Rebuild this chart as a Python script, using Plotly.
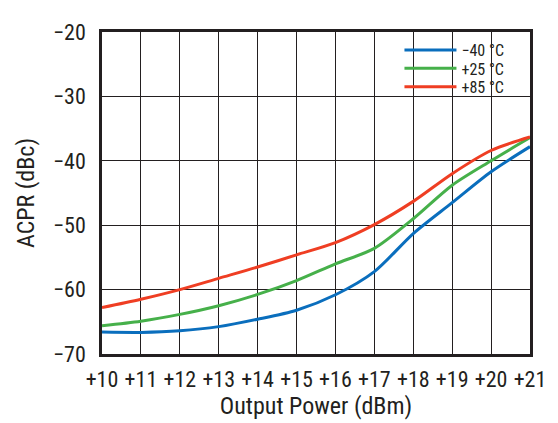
import plotly.graph_objects as go

# Output power (dBm) and ACPR (dBc)
power = [10, 11, 12, 13, 14, 15, 16, 17, 18, 19, 20, 21]
acpr_m40 = [-66.6, -66.65, -66.4, -65.75, -64.6, -63.2, -60.8, -57.2, -51.3, -46.5, -41.7, -37.8]
acpr_p25 = [-65.6, -64.9, -63.85, -62.5, -60.75, -58.6, -56.0, -53.6, -49.0, -43.8, -40.0, -36.4]
acpr_p85 = [-62.8, -61.5, -60.0, -58.25, -56.5, -54.6, -52.7, -49.9, -46.3, -42.0, -38.4, -36.3]

x_ticks = list(range(10, 22))
x_labels = ['+%d' % v for v in x_ticks]
y_ticks = [-70, -60, -50, -40, -30, -20]
y_labels = ['\u2212%d' % abs(v) for v in y_ticks]

font_family = "Roboto Condensed, Liberation Sans Narrow, Roboto, sans-serif"
ink = '#231f20'

series = [
    ('\u221240 \u00b0C', acpr_m40, '#0a6ebd'),
    ('+25 \u00b0C', acpr_p25, '#46b04a'),
    ('+85 \u00b0C', acpr_p85, '#ef3e23'),
]
legend_keys = ['legend', 'legend2', 'legend3']
legend_rows = [0.944, 0.887, 0.830]

fig = go.Figure()
for (name, vals, col), lg in zip(series, legend_keys):
    fig.add_trace(go.Scatter(x=power, y=vals, name=name, mode='lines', legend=lg,
                             line=dict(color=col, width=3, shape='spline', smoothing=0.8)))

# one legend box per entry so the rows can sit as tight as in the original
legend_style = dict(x=0.695, xanchor='left', yanchor='middle', bgcolor='rgba(0,0,0,0)',
                    font=dict(size=16, color=ink), itemwidth=52)
layout_legends = {lg: dict(legend_style, y=yy) for lg, yy in zip(legend_keys, legend_rows)}

fig.update_layout(
    width=550, height=415,
    margin=dict(l=94, r=26, t=12, b=69),
    paper_bgcolor='white', plot_bgcolor='white',
    font=dict(family=font_family, size=22, color=ink),
    showlegend=True,
    **layout_legends,
)
fig.update_xaxes(range=[10, 21], tickvals=x_ticks, ticktext=x_labels,
                 showgrid=True, gridcolor=ink, gridwidth=1.3,
                 showline=True, linecolor=ink, linewidth=2.5, mirror=True,
                 zeroline=False, ticks='', ticklabelstandoff=4,
                 title=dict(text='Output Power (dBm)', font=dict(size=24), standoff=2))
fig.update_yaxes(range=[-70, -20], tickvals=y_ticks, ticktext=y_labels,
                 showgrid=True, gridcolor=ink, gridwidth=1.3,
                 showline=True, linecolor=ink, linewidth=2.5, mirror=True,
                 zeroline=False, ticks='', ticklabelstandoff=9,
                 title=dict(text='ACPR (dBc)', font=dict(size=24), standoff=12))

fig.write_html("out.html")
